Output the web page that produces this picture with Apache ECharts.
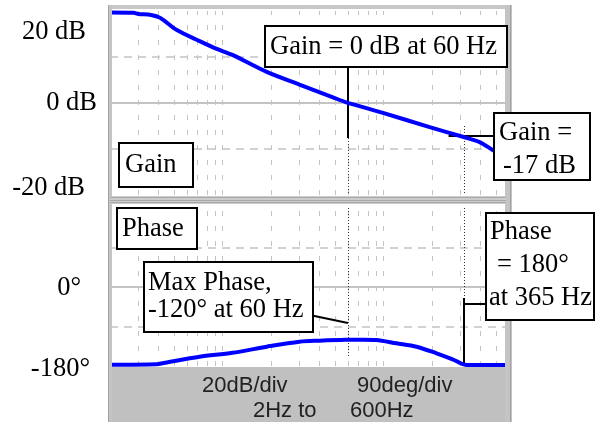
<!DOCTYPE html>
<html>
<head>
<meta charset="utf-8">
<script src="https://cdn.jsdelivr.net/npm/echarts@6/dist/echarts.min.js"></script>
<style>
html,body{margin:0;padding:0;background:#fff;}
#c{width:597px;height:422px;}
</style>
</head>
<body>
<div id="c"></div>
<script>
// ---- data ----
const gainFreq = [2, 2.8, 3.0, 3.6, 4.1, 5.2, 7.2, 9.2, 11.5, 18.8, 30, 48, 58, 99, 193, 314, 394, 475, 600];
const gainDb   = [39.3, 39.2, 38.7, 38.3, 37.0, 31.7, 26.9, 23.5, 20.9, 13.5, 8.0, 2.6, 0.4, -4.3, -10.5, -14.8, -17, -20.4, -24.5];
const phaseFreq = [2, 3.9, 4.4, 7.2, 11.5, 18.8, 30, 40, 58, 75, 90, 120, 160, 213, 268, 328, 600];
const phaseDeg  = [-177, -176, -172.5, -159, -150, -136, -124.6, -122.3, -120.3, -120, -120.7, -128.3, -136, -151, -164.7, -178, -178];
const freqGrid = [3, 4, 5, 6, 7, 8, 9, 10, 20, 30, 40, 50, 60, 70, 80, 90, 100, 200, 300, 400, 500];
const gainGridDb = [-20, 0, 20];
const phaseGridDeg = [-90, 0, 90];
const gainTickLabels = ['20 dB', '0 dB', '-20 dB'];
const phaseTickLabels = ['0°', '-180°'];
const footerLabels = ['20dB/div', '90deg/div', '2Hz to', '600Hz'];
const markFreqGain0 = 60;
const markFreqPhase180 = 315;

const chart = echarts.init(document.getElementById('c'), null, {renderer: 'canvas'});

const gridColor = '#c4c4c4';
function gridLines(hVals) {
  const d = [];
  freqGrid.forEach(f => d.push({xAxis: f, lineStyle: {type: [5, 10], color: gridColor, width: 1}}));
  hVals.forEach(v => d.push({yAxis: v, lineStyle: {type: v === 0 ? 'solid' : [8, 6], color: gridColor, width: v === 0 ? 2 : 1.5}}));
  return d;
}
function seg(a, b, dotted) {
  return [{coord: a}, {coord: b, lineStyle: dotted ? {type: [1, 2], color: '#333', width: 1} : {type: 'solid', color: '#000', width: 2}}];
}
const ml = (data) => ({silent: true, symbol: ['none', 'none'], label: {show: false}, animation: false, data: data, emphasis: {disabled: true}});

const serif = '"Liberation Serif", "Times New Roman", serif';
const sans = '"Liberation Sans", Arial, sans-serif';
const fs = '26.5px ';
const g = [];
// frame
g.push({type: 'rect', shape: {x: 110, y: 367, width: 400, height: 55}, style: {fill: '#c0c0c0'}, z: 50});
g.push({type: 'rect', shape: {x: 110, y: 5, width: 400, height: 4}, style: {fill: '#c8c8c8'}, z: 50});
g.push({type: 'rect', shape: {x: 108, y: 5, width: 4, height: 417}, style: {fill: '#c4c4c4'}, z: 50});
g.push({type: 'line', shape: {x1: 108.5, y1: 5, x2: 108.5, y2: 422}, style: {stroke: '#a0a0a0', lineWidth: 1}, z: 51});
g.push({type: 'rect', shape: {x: 505, y: 5, width: 7, height: 417}, style: {fill: '#c4c4c4'}, z: 50});
g.push({type: 'line', shape: {x1: 510.5, y1: 5, x2: 510.5, y2: 422}, style: {stroke: '#a0a0a0', lineWidth: 1}, z: 51});
g.push({type: 'rect', shape: {x: 110, y: 196, width: 396, height: 8}, style: {fill: '#cccccc'}, z: 50});
[197.5, 200.5, 202.5].forEach(y => g.push({type: 'line', shape: {x1: 110, y1: y, x2: 506, y2: y}, style: {stroke: '#a8a8a8', lineWidth: 1}, z: 51}));

// boxes
function box(x, y, w, h, lines) {
  g.push({type: 'rect', shape: {x: x, y: y, width: w, height: h}, style: {fill: '#fff', stroke: '#000', lineWidth: 2}, z: 60});
  lines.forEach(l => g.push({type: 'text', style: {text: l[0], x: l[1], y: l[2], font: fs + serif, fill: '#000', align: 'left', verticalAlign: 'middle'}, z: 61}));
}
box(265, 26, 242, 41, [['Gain = 0 dB at 60 Hz', 270, 47]]);
box(119, 143, 74, 44, [['Gain', 125, 165]]);
box(117, 208, 80, 41, [['Phase', 122, 229]]);
box(144, 262, 169, 70, [['Max Phase,', 148, 283], ['-120° at 60 Hz', 148, 310]]);
box(494, 113, 96, 67, [['Gain =', 499, 133], ['-17 dB', 503, 166]]);
box(486, 213, 108, 107, [['Phase', 490, 232], ['= 180°', 497, 265], ['at 365 Hz', 489, 298]]);

// axis labels
const yl = [[gainTickLabels[0], 86, 32], [gainTickLabels[1], 97, 103], [gainTickLabels[2], 85, 188], [phaseTickLabels[0], 81, 288], [phaseTickLabels[1], 90, 369]];
yl.forEach(l => g.push({type: 'text', style: {text: l[0], x: l[1], y: l[2], font: fs + serif, fill: '#000', align: 'right', verticalAlign: 'middle'}, z: 61}));
const fl = [[footerLabels[0], 202, 386], [footerLabels[1], 357, 386], [footerLabels[2], 253, 411], [footerLabels[3], 350, 411]];
fl.forEach(l => g.push({type: 'text', style: {text: l[0], x: l[1], y: l[2], font: '22px ' + sans, fill: '#222', align: 'left', verticalAlign: 'middle'}, z: 61}));

const option = {
  animation: false,
  backgroundColor: '#fff',
  grid: [
    {left: 110, top: 11, width: 399, height: 184},
    {left: 110, top: 208, width: 399, height: 158}
  ],
  xAxis: [
    {type: 'log', logBase: 10, min: 2, max: 600, gridIndex: 0, show: false},
    {type: 'log', logBase: 10, min: 2, max: 600, gridIndex: 1, show: false}
  ],
  yAxis: [
    {type: 'value', min: -40, max: 40, interval: 20, gridIndex: 0, show: false},
    {type: 'value', min: -180, max: 180, interval: 90, gridIndex: 1, show: false}
  ],
  graphic: g,
  series: [
    {type: 'line', xAxisIndex: 0, yAxisIndex: 0, z: 1, data: gainFreq.map((f, i) => [f, gainDb[i]]), showSymbol: false, lineStyle: {opacity: 0}, markLine: ml(gridLines(gainGridDb))},
    {type: 'line', xAxisIndex: 1, yAxisIndex: 1, z: 1, data: phaseFreq.map((f, i) => [f, phaseDeg[i]]), showSymbol: false, lineStyle: {opacity: 0}, markLine: ml(gridLines(phaseGridDeg))},
    {type: 'line', xAxisIndex: 0, yAxisIndex: 0, z: 5, data: gainFreq.map((f, i) => [f, gainDb[i]]), showSymbol: false, smooth: 0.3,
      lineStyle: {color: '#0000ff', width: 4}, itemStyle: {color: '#0000ff'},
      markLine: ml([
        seg([markFreqGain0, 15.7], [markFreqGain0, -15.2], false),
        seg([markFreqGain0, -15.2], [markFreqGain0, -40], true),
        seg([253, -14.3], [482, -14.3], false),
        seg([markFreqPhase180, -10], [markFreqPhase180, -40], true)
      ])},
    {type: 'line', xAxisIndex: 1, yAxisIndex: 1, z: 5, data: phaseFreq.map((f, i) => [f, phaseDeg[i]]), showSymbol: false, smooth: 0.3,
      lineStyle: {color: '#0000ff', width: 4}, itemStyle: {color: '#0000ff'},
      markLine: ml([
        seg([markFreqGain0, 180], [markFreqGain0, -162], true),
        seg([34.7, -63.8], [markFreqGain0, -82], false),
        seg([markFreqPhase180, 180], [markFreqPhase180, -25], true),
        seg([markFreqPhase180, -25], [markFreqPhase180, -180], false),
        seg([markFreqPhase180, -38.7], [430, -38.7], false)
      ])}
  ]
};
chart.setOption(option);
</script>
</body>
</html>
